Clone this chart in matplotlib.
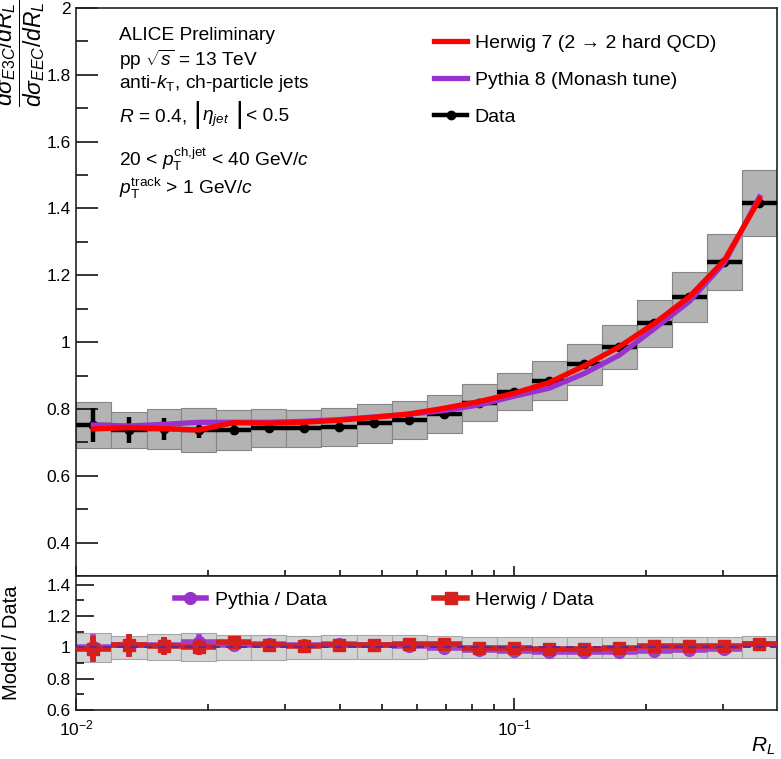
import matplotlib
matplotlib.use("Agg")
import matplotlib.pyplot as plt
from matplotlib.lines import Line2D
from matplotlib.ticker import LogLocator, MultipleLocator, NullFormatter, LogFormatterMathtext
import numpy as np

plt.rcParams["font.family"] = ["Liberation Sans", "DejaVu Sans"]
plt.rcParams["mathtext.fontset"] = "custom"
plt.rcParams["mathtext.rm"] = "Liberation Sans"
plt.rcParams["mathtext.it"] = "Liberation Sans:italic"
plt.rcParams["mathtext.bf"] = "Liberation Sans:bold"
plt.rcParams["mathtext.sf"] = "Liberation Sans"

# R_L binning (log bins, 0.08 dex)
bin_edges = [0.0100, 0.0120, 0.0145, 0.0174, 0.0209, 0.0251, 0.0302, 0.0363,
             0.0437, 0.0525, 0.0631, 0.0759, 0.0912, 0.1096, 0.1318, 0.1585,
             0.1905, 0.2291, 0.2754, 0.3311, 0.3981]

# E3C/EEC data
data_val = [0.752, 0.737, 0.740, 0.738, 0.737, 0.743, 0.742, 0.747, 0.757, 0.767,
            0.785, 0.819, 0.852, 0.884, 0.934, 0.986, 1.056, 1.134, 1.240, 1.416]
data_stat = [0.050, 0.040, 0.033, 0.025, 0.016, 0.010, 0.007, 0.006, 0.005, 0.005,
             0.004, 0.004, 0.004, 0.004, 0.004, 0.005, 0.005, 0.006, 0.007, 0.009]
data_sys = [0.069, 0.054, 0.061, 0.066, 0.060, 0.058, 0.055, 0.057, 0.058, 0.058,
            0.056, 0.055, 0.056, 0.058, 0.061, 0.066, 0.070, 0.075, 0.085, 0.098]

# MC predictions
herwig_val = [0.740, 0.744, 0.741, 0.737, 0.759, 0.757, 0.760, 0.766, 0.775, 0.785,
              0.802, 0.822, 0.847, 0.879, 0.929, 0.986, 1.056, 1.136, 1.245, 1.428]
pythia_val = [0.752, 0.749, 0.754, 0.760, 0.760, 0.760, 0.763, 0.768, 0.776, 0.784,
              0.795, 0.812, 0.838, 0.862, 0.906, 0.961, 1.040, 1.122, 1.238, 1.434]

# Model / Data ratios
herwig_ratio = [0.992, 1.013, 1.006, 1.002, 1.034, 1.013, 1.006, 1.013, 1.013, 1.019,
                1.019, 0.998, 0.998, 0.992, 0.992, 0.996, 1.006, 1.006, 1.006, 1.019]
herwig_ratio_err = [0.083, 0.075, 0.058, 0.050, 0.025, 0.018, 0.012, 0.010, 0.008, 0.008,
                    0.007, 0.007, 0.007, 0.007, 0.007, 0.007, 0.008, 0.008, 0.009, 0.010]
pythia_ratio = [1.002, 1.013, 1.013, 1.034, 1.013, 1.019, 1.013, 1.019, 1.013, 1.006,
                0.996, 0.981, 0.974, 0.970, 0.968, 0.970, 0.977, 0.985, 0.992, 1.023]
pythia_ratio_err = [0.080, 0.070, 0.055, 0.048, 0.024, 0.017, 0.012, 0.010, 0.008, 0.008,
                    0.007, 0.007, 0.007, 0.007, 0.007, 0.007, 0.008, 0.008, 0.009, 0.010]

RED = "#ff0000"
PURPLE = "#9932cc"
RRED = "#d61f1f"
W, H = 781, 759

edges = np.array(bin_edges)
left, right = edges[:-1], edges[1:]
centers = np.sqrt(left * right)
widths = right - left
xerr = [centers - left, right - centers]
dv = np.array(data_val)
ds = np.array(data_sys)

fig = plt.figure(figsize=(W / 100, H / 100), dpi=100)
ax = fig.add_axes([0.0973, 0.2411, 0.8976, 0.7484])
rax = fig.add_axes([0.0973, 0.0646, 0.8976, 0.1765], sharex=ax)

# --- top panel ---
ax.bar(left, 2 * ds, width=widths, bottom=dv - ds, align="edge",
       color="#b3b3b3", edgecolor="#858585", linewidth=0.8, zorder=1)
ax.errorbar(centers, dv, xerr=xerr, yerr=data_stat, fmt="o", color="black",
            ms=6, elinewidth=3.2, capsize=0, zorder=3)
ax.plot(centers, pythia_val, color=PURPLE, lw=3.8, zorder=4)
ax.plot(centers, herwig_val, color=RED, lw=3.8, zorder=5)

ax.set_xscale("log")
ax.set_xlim(0.01, 0.3981)
ax.set_ylim(0.3, 2.0)
ax.yaxis.set_minor_locator(MultipleLocator(0.1))
ax.set_yticks([0.4, 0.6, 0.8, 1.0, 1.2, 1.4, 1.6, 1.8, 2.0])
ax.set_yticklabels(["0.4", "0.6", "0.8", "1", "1.2", "1.4", "1.6", "1.8", "2"])
ax.tick_params(axis="y", which="major", direction="in", length=16, width=1.1,
               labelsize=12.5, pad=4)
ax.tick_params(axis="y", which="minor", direction="in", length=8.5, width=1.1)
ax.tick_params(axis="x", which="major", direction="in", length=7, width=1.1,
               labelbottom=False)
ax.tick_params(axis="x", which="minor", direction="in", length=4, width=1.1,
               labelbottom=False)

leg_handles = [Line2D([], [], color=RED, lw=3.8),
               Line2D([], [], color=PURPLE, lw=3.8),
               Line2D([], [], color="black", lw=3.2, marker="o", ms=6)]
leg_labels = ["Herwig 7 (2 \u2192 2 hard QCD)", "Pythia 8 (Monash tune)", "Data"]
fig.legend(leg_handles, leg_labels, loc="upper left", bbox_to_anchor=(0.5557, 1 - 34 / H),
           frameon=False, fontsize=14, handlelength=1.7, handletextpad=0.4,
           labelspacing=1.0, borderpad=0, borderaxespad=0)

tx = 119 / W
fs = 13.8
fig.text(tx, 1 - 39.5 / H, "ALICE Preliminary", fontsize=fs, va="baseline")
fig.text(tx, 1 - 66 / H, r"pp $\sqrt{s}$ = 13 TeV", fontsize=fs, va="baseline")
fig.text(tx, 1 - 88 / H, r"anti-$k_{\mathrm{T}}$, ch-particle jets", fontsize=fs, va="baseline")
# R = 0.4, |eta_jet| < 0.5 with tall bars
yb = 1 - 121 / H
fig.text(tx, yb, r"$R$ = 0.4,", fontsize=fs, va="baseline")
fig.text(193 / W, 1 - 123 / H, "|", fontsize=21, va="baseline")
fig.text(202 / W, yb, r"$\eta_{jet}$", fontsize=fs, va="baseline")
fig.text(235 / W, 1 - 123 / H, "|", fontsize=21, va="baseline")
fig.text(246 / W, yb, "< 0.5", fontsize=fs, va="baseline")
fig.text(tx, 1 - 166 / H, r"20 < $p_{\mathrm{T}}^{\mathrm{ch{,}jet}}$ < 40 GeV/$c$", fontsize=fs, va="baseline")
fig.text(tx, 1 - 194 / H, r"$p_{\mathrm{T}}^{\mathrm{track}}$ > 1 GeV/$c$", fontsize=fs, va="baseline")

fig.text(20 / W, 1.0, r"$\dfrac{d\sigma_{E3C}/dR_{L}}{d\sigma_{EEC}/dR_{L}}$",
         rotation=90, ha="center", va="top", fontsize=16.5)

# --- ratio panel ---
rel = ds / dv
rax.bar(left, 2 * rel, width=widths, bottom=1 - rel, align="edge",
        color="#d3d3d3", edgecolor="#a6a6a6", linewidth=0.8, zorder=1)
rax.errorbar(centers, pythia_ratio, xerr=xerr, yerr=pythia_ratio_err, fmt="o",
             color=PURPLE, alpha=0.9, ms=8.5, elinewidth=4, capsize=0, zorder=2)
rax.errorbar(centers, herwig_ratio, xerr=xerr, yerr=herwig_ratio_err, fmt="s",
             color=RRED, ms=8.5, elinewidth=4, capsize=0, zorder=3)
rax.axhline(1.0, color="#5a2aa0", lw=1.4, ls=(0, (4, 3)), zorder=4)

rax.set_ylim(0.6, 1.455)
rax.set_yticks([0.6, 0.8, 1.0, 1.2, 1.4])
rax.set_yticklabels(["0.6", "0.8", "1", "1.2", "1.4"])
rax.yaxis.set_minor_locator(MultipleLocator(0.1))
rax.tick_params(axis="y", which="major", direction="in", length=13, width=1.1,
                labelsize=12.5, pad=4)
rax.tick_params(axis="y", which="minor", direction="in", length=6, width=1.1)
rax.xaxis.set_major_locator(LogLocator(base=10))
rax.xaxis.set_minor_locator(LogLocator(base=10, subs=np.arange(2, 10)))
rax.xaxis.set_major_formatter(LogFormatterMathtext())
rax.xaxis.set_minor_formatter(NullFormatter())
rax.tick_params(axis="x", which="major", direction="in", length=9, width=1.1,
                labelsize=12.5, pad=6)
rax.tick_params(axis="x", which="minor", direction="in", length=4.5, width=1.1)
rax.set_xlim(0.01, 0.3981)

for a in (ax, rax):
    for sp in a.spines.values():
        sp.set_linewidth(1.2)
        sp.set_color("#222222")

rax.set_ylabel("Model / Data", fontsize=14.5)
rax.yaxis.set_label_coords(-0.078, 0.5)
fig.text(0.993, 1 - 752 / H, r"$R_{L}$", ha="right", va="baseline", fontsize=15)

r_handles = [Line2D([], [], color=PURPLE, lw=4, marker="o", ms=8.5)]
rax.legend(r_handles, ["Pythia / Data"], loc="upper left", bbox_to_anchor=(0.141, 0.885),
           frameon=False, fontsize=14, handlelength=1.6, handletextpad=0.45,
           borderpad=0, borderaxespad=0)
leg2 = Line2D([], [], color=RRED, lw=4, marker="s", ms=8.5)
fig.legend([leg2], ["Herwig / Data"], loc="upper left", bbox_to_anchor=(0.5557, 1 - 591 / H),
           frameon=False, fontsize=14, handlelength=1.7, handletextpad=0.4,
           borderpad=0, borderaxespad=0)

fig.savefig("out.png", dpi=100)
